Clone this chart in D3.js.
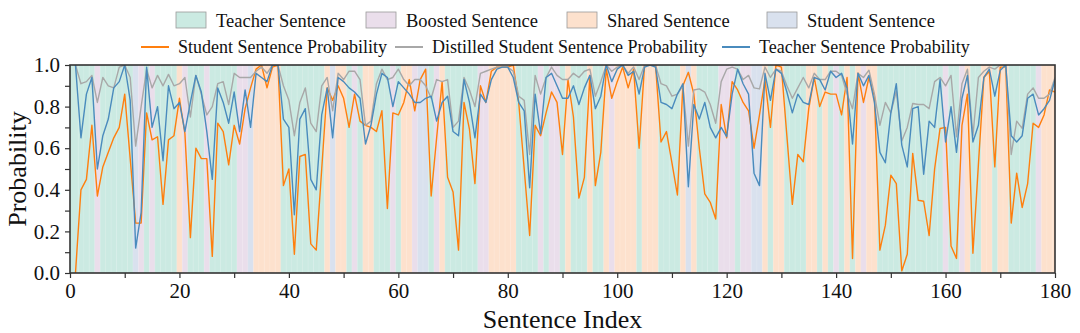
<!DOCTYPE html>
<html><head><meta charset="utf-8">
<script src="https://cdn.jsdelivr.net/npm/d3@7"></script>
<style>html,body{margin:0;padding:0;background:#fff;}svg{display:block;}</style>
</head><body>
<svg id="chart" width="1080" height="333"></svg>
<script>
// ---- data ----
const sentenceType = ["TTTTBTTTTT","TUBTBTTTTS","BTTTBTTTTT","BBUSSSSSTT","TTTTTTSUSS",
  "TBTSSTTTBT","SSBUUTBSTT","TTTTBBSSSS","STTTTBTBBT","STTTSTTSBS","SSSTSSSTTT",
  "TSUSTTTTBB","BTBBUUSTSS","TTTTSSTSTB","TSTSBSSTTT","TTTTTTTTTB","TTBSTTSSTS","STTTTTBSSS"].join("").split("");
const typeNames = {T:"Teacher Sentence", B:"Boosted Sentence", S:"Shared Sentence", U:"Student Sentence"};
const typeOrder = ["T","B","S","U"];
const studentProb = [
0.00,0.40,0.45,0.71,0.37,0.51,0.58,0.65,0.70,0.86,
0.55,0.24,0.24,0.77,0.64,0.655,0.33,0.64,0.66,0.84,
0.67,0.17,0.60,0.55,0.55,0.08,0.72,0.68,0.52,0.71,
0.62,0.79,0.89,0.98,1.00,0.89,0.99,1.00,0.42,0.50,
0.09,0.56,0.57,0.14,0.11,0.50,0.89,0.83,0.90,0.84,
0.70,0.86,0.73,0.71,0.70,0.68,0.78,0.31,0.77,0.76,
0.82,0.93,0.78,0.93,0.98,0.37,0.65,0.92,0.46,0.39,
0.11,0.82,0.69,0.43,0.90,0.82,0.97,0.99,0.99,0.99,
1.00,0.82,0.50,0.18,0.71,0.66,0.77,0.87,0.82,0.57,
0.93,0.75,0.36,0.46,0.95,0.42,0.58,0.98,0.84,0.92,
0.99,0.89,0.98,0.60,1.00,1.00,1.00,0.63,0.68,0.53,
0.375,0.90,0.965,0.86,0.60,0.38,0.34,0.26,0.81,0.65,
0.92,0.88,0.82,0.78,0.60,0.76,0.93,0.70,1.00,0.99,
0.66,0.33,0.57,0.535,0.79,0.94,0.80,0.87,0.86,0.86,
0.76,0.94,0.07,0.96,0.82,0.94,0.85,0.11,0.23,0.47,
0.43,0.01,0.09,0.575,0.35,0.345,0.18,0.50,0.695,0.70,
0.13,0.07,0.71,0.86,0.095,0.52,0.94,0.97,0.51,0.99,
0.99,0.24,0.48,0.315,0.43,0.72,0.70,0.76,0.88,0.87];
const distilledProb = [
1.00,0.91,0.92,0.95,0.82,0.94,0.90,0.89,0.99,1.00,
0.94,0.61,0.80,0.98,0.89,0.95,0.90,0.955,0.90,0.91,
0.94,0.75,0.95,0.86,0.76,0.80,0.91,0.92,0.81,0.96,
0.94,0.94,0.94,0.97,0.99,0.96,1.00,1.00,0.90,0.83,
0.66,0.82,0.89,0.72,0.68,0.90,0.94,0.78,0.96,0.93,
0.97,0.97,0.93,0.71,0.73,0.91,0.98,0.93,0.94,0.98,
0.93,0.90,0.93,0.93,0.90,0.84,0.93,0.92,0.93,0.70,
0.73,0.94,0.88,0.80,0.96,0.97,0.98,0.99,0.99,0.99,
0.97,0.85,0.83,0.57,0.95,0.86,0.94,0.99,0.95,0.93,
0.93,0.96,0.94,0.97,0.98,0.85,0.92,1.00,0.97,0.99,
1.00,0.96,0.99,0.93,1.00,1.00,1.00,0.91,0.90,0.85,
0.86,0.90,0.61,0.88,0.885,0.87,0.81,0.72,0.92,0.98,
0.99,0.98,0.93,0.95,0.89,0.885,0.99,0.94,0.98,0.97,
0.90,0.84,0.89,0.94,0.89,0.96,0.93,0.93,0.97,0.97,
0.95,0.86,0.79,0.96,0.94,0.975,0.86,0.71,0.82,0.77,
0.875,0.635,0.70,0.815,0.81,0.81,0.79,0.92,0.94,0.90,
0.95,0.655,0.91,0.98,0.66,0.94,0.97,0.99,0.98,1.00,
1.00,0.57,0.73,0.695,0.86,0.89,0.84,0.84,0.86,0.94];
const teacherProb = [
1.00,0.65,0.86,0.94,0.50,0.66,0.74,0.89,0.92,1.00,
0.83,0.12,0.29,0.99,0.70,0.80,0.54,0.90,0.79,0.82,
0.68,0.82,0.95,0.87,0.68,0.45,0.89,0.82,0.72,0.87,
0.68,0.88,0.70,0.96,0.94,0.92,1.00,1.00,0.74,0.70,
0.28,0.74,0.79,0.45,0.40,0.76,0.89,0.65,0.94,0.92,
0.89,0.87,0.84,0.62,0.71,0.86,0.96,0.94,0.80,0.92,
0.89,0.86,0.82,0.82,0.84,0.85,0.73,0.82,0.85,0.68,
0.66,0.93,0.82,0.65,0.86,0.82,0.93,0.98,0.99,0.99,
0.94,0.82,0.78,0.41,0.86,0.67,0.94,0.96,0.90,0.84,
0.84,0.90,0.81,0.89,0.95,0.79,0.85,1.00,0.92,0.98,
1.00,0.95,0.97,0.86,0.99,1.00,0.99,0.82,0.81,0.79,
0.86,0.91,0.415,0.81,0.74,0.82,0.70,0.65,0.70,0.655,
0.86,0.98,0.91,0.86,0.48,0.42,0.96,0.83,0.98,0.96,
0.87,0.77,0.86,0.82,0.81,0.94,0.93,0.88,0.97,0.94,
0.96,0.89,0.62,0.96,0.90,0.95,0.82,0.58,0.53,0.77,
0.91,0.615,0.51,0.79,0.80,0.475,0.73,0.70,0.93,0.63,
0.80,0.58,0.84,0.95,0.63,0.71,0.94,0.98,0.85,0.975,
1.00,0.66,0.63,0.66,0.84,0.86,0.76,0.79,0.83,0.93];
const xTicks = [0,20,40,60,80,100,120,140,160,180];
const yTicks = [0.0,0.2,0.4,0.6,0.8,1.0];
const seriesNames = ["Student Sentence Probability","Distilled Student Sentence Probability","Teacher Sentence Probability"];

// ---- styles / layout ----
const bandColor = {T:"#cbeae2", B:"#eadeeb", S:"#fde1cd", U:"#d9e1ee"};
const lineColor = ["#ff7f0e","#a8a8a8","#4a8bbd"];
const FONT = "'Liberation Serif','Times New Roman',serif";
const axisColor = "#333";
const legendRow1X = [176, 366, 567, 767];
const legendRow2X = [141, 395, 722];

const svg = d3.select("#chart");
const m = {left:70, right:1055, top:65, bottom:273};
const x = d3.scaleLinear().domain([0,180]).range([m.left, m.right]);
const y = d3.scaleLinear().domain([0,1]).range([m.bottom, m.top]);
const idx = d3.range(1, sentenceType.length + 1);

svg.append("defs").append("clipPath").attr("id","clip").append("rect")
  .attr("x", m.left).attr("y", m.top).attr("width", m.right-m.left).attr("height", m.bottom-m.top);

const plot = svg.append("g").attr("clip-path","url(#clip)");
plot.selectAll("rect.band").data(idx).join("rect").attr("class","band")
  .attr("x", d => x(d === 1 ? 0 : d - 0.5))
  .attr("width", d => x(d + 0.5) - x(d === 1 ? 0 : d - 0.5) + 0.3)
  .attr("y", m.top).attr("height", m.bottom - m.top)
  .attr("fill", d => bandColor[sentenceType[d-1]]);
plot.selectAll("line.sep").data(idx).join("line").attr("class","sep")
  .attr("x1", d => x(d + 0.5)).attr("x2", d => x(d + 0.5))
  .attr("y1", m.top).attr("y2", m.bottom)
  .attr("stroke","#fff").attr("stroke-opacity",0.25).attr("stroke-width",0.6);

const series = [studentProb, distilledProb, teacherProb];
const line = d3.line().x((d,i) => x(i+1)).y(d => y(d));
series.forEach((s, k) => {
  plot.append("path").datum(s).attr("d", line)
    .attr("fill","none").attr("stroke", lineColor[k]).attr("stroke-width",1.4)
    .attr("stroke-linejoin","round");
});

// axes
const gx = svg.append("g").attr("transform", `translate(0,${m.bottom})`)
  .call(d3.axisBottom(x).tickValues(d3.range(0,181,10)).tickSize(5).tickPadding(5)
    .tickFormat(d => xTicks.includes(d) ? d3.format("d")(d) : ""));
const gy = svg.append("g").attr("transform", `translate(${m.left},0)`)
  .call(d3.axisLeft(y).tickValues(d3.range(0,11).map(d => d/10)).tickSize(5).tickPadding(5)
    .tickFormat(d => yTicks.some(t => Math.abs(t-d) < 1e-9) ? d3.format(".1f")(d) : ""));
[gx, gy].forEach(g => {
  g.select(".domain").remove();
  g.selectAll("line").attr("stroke", axisColor).attr("stroke-width", 1.2);
  g.selectAll("text").attr("font-family", FONT).attr("font-size", 21).attr("fill", "#111");
});
svg.append("rect").attr("x", m.left).attr("y", m.top).attr("width", m.right-m.left).attr("height", m.bottom-m.top)
  .attr("fill","none").attr("stroke", axisColor).attr("stroke-width", 1.6);

svg.append("text").attr("x", (m.left+m.right)/2).attr("y", 328).attr("text-anchor","middle")
  .attr("font-family", FONT).attr("font-size", 26).attr("fill","#111").text("Sentence Index");
svg.append("text").attr("transform", `translate(26,${(m.top+m.bottom)/2}) rotate(-90)`).attr("text-anchor","middle")
  .attr("font-family", FONT).attr("font-size", 26).attr("fill","#111").text("Probability");

// legend
const lg1 = svg.append("g");
typeOrder.forEach((k, i) => {
  const x0 = legendRow1X[i];
  lg1.append("rect").attr("x", x0).attr("y", 12).attr("width", 30).attr("height", 16)
    .attr("fill", bandColor[k]).attr("stroke","#999").attr("stroke-width",0.8);
  lg1.append("text").attr("x", x0 + 40).attr("y", 27)
    .attr("font-family", FONT).attr("font-size", 18.5).attr("fill","#111").text(typeNames[k]);
});
const lg2 = svg.append("g");
seriesNames.forEach((n, k) => {
  const x0 = legendRow2X[k];
  lg2.append("line").attr("x1", x0).attr("x2", x0 + 28).attr("y1", 47).attr("y2", 47)
    .attr("stroke", lineColor[k]).attr("stroke-width", 2);
  lg2.append("text").attr("x", x0 + 37).attr("y", 53)
    .attr("font-family", FONT).attr("font-size", 18).attr("fill","#111").text(n);
});
</script>
</body></html>
